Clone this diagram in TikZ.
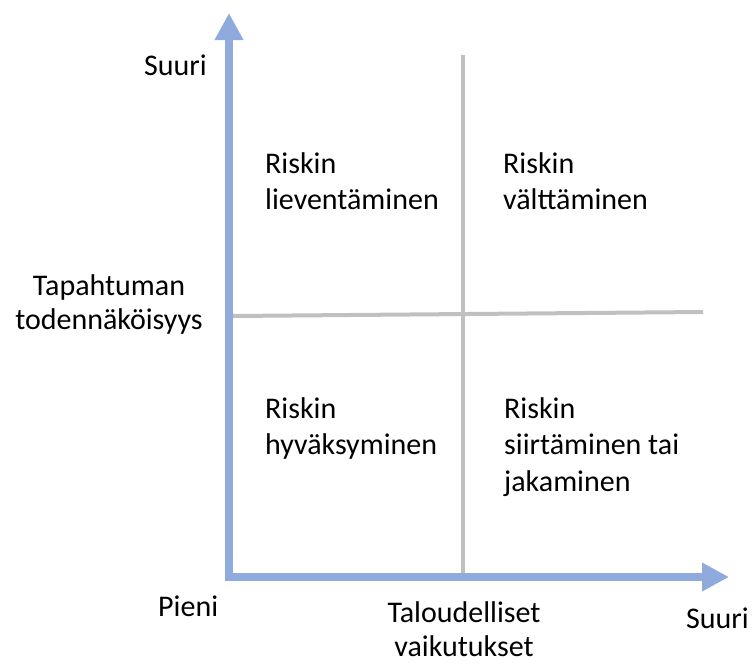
\documentclass[tikz,border=0pt]{standalone}
\usepackage{fontspec}
\setmainfont{Carlito}
\usetikzlibrary{arrows.meta}
\definecolor{axisblue}{HTML}{8FAADC}
\definecolor{gridgray}{HTML}{C0C0C0}
\begin{document}
\begin{tikzpicture}[x=1pt,y=-1pt,
  axis/.style={draw=axisblue, line width=8pt, line join=miter,
    {Triangle[length=27pt,width=27pt]}-{Triangle[length=27pt,width=27pt]}},
  divider/.style={draw=gridgray, line width=4pt},
  txt/.style={font=\fontsize{30}{36.5}\selectfont, inner sep=0pt,
    execute at begin node=\rule{0pt}{24pt}},
  quad/.style={txt, anchor=north west, align=left},
  axlabel/.style={txt, anchor=north, align=center, font=\fontsize{30}{34}\selectfont},
]
\useasboundingbox (0,0) rectangle (752,664);

% quadrant dividers
\coordinate (vtop) at (463,55);
\coordinate (vbot) at (463,573);
\coordinate (hleft) at (233,316);
\coordinate (hright) at (703,312);
\draw[divider] (vtop) -- (vbot);
\draw[divider] (hleft) -- (hright);

% axes
\coordinate (ytip) at (229,13);
\coordinate (xtip) at (729,577);
\draw[axis] (ytip) |- (xtip);

% axis labels
\node[quad] (ysuuri) at (144,51) {Suuri};
\node[axlabel] (ylabel) at (109,274) {Tapahtuman\\todennäköisyys};
\node[quad] (pieni) at (158,592) {Pieni};
\node[axlabel] (xlabel) at (464,601) {Taloudelliset\\vaikutukset};
\node[quad] (xsuuri) at (686,604) {Suuri};

% quadrant texts
\node[quad] (q1) at (265,152) {Riskin\\lieventäminen};
\node[quad] (q2) at (503,152) {Riskin\\välttäminen};
\node[quad] (q3) at (265,397) {Riskin\\hyväksyminen};
\node[quad] (q4) at (504,397) {Riskin\\siirtäminen tai\\jakaminen};
\end{tikzpicture}
\end{document}
